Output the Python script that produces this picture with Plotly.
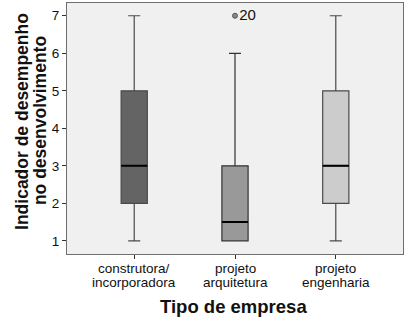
import plotly.graph_objects as go

# Summary statistics per company type
categories = ["construtora/incorporadora", "projeto arquitetura", "projeto engenharia"]
label_line1 = ["construtora/", "projeto", "projeto"]
label_line2 = ["incorporadora", "arquitetura", "engenharia"]
q1 = [2, 1, 2]
median = [3, 1.5, 3]
q3 = [5, 3, 5]
lower = [1, 1, 1]
upper = [7, 6, 7]
fills = ["#646464", "#999999", "#cccccc"]
edges = ["#4a4a4a", "#333333", "#4a4a4a"]

# Outlier case
outlier_cat = ["projeto arquitetura"]
outlier_val = [7]
outlier_id = ["20"]

FONT = "Liberation Sans, Arial"

fig = go.Figure()
for i, c in enumerate(categories):
    fig.add_trace(go.Box(
        x=[c], q1=[q1[i]], median=[median[i]], q3=[q3[i]],
        lowerfence=[lower[i]], upperfence=[upper[i]],
        fillcolor=fills[i], line=dict(color=edges[i], width=1.2),
        width=0.26, whiskerwidth=0.46, boxpoints=False, showlegend=False,
        hoverinfo="skip",
    ))
    # black median bar over the box
    fig.add_trace(go.Box(
        x=[c], q1=[median[i]], median=[median[i]], q3=[median[i]],
        lowerfence=[median[i]], upperfence=[median[i]],
        fillcolor="rgba(0,0,0,0)", line=dict(color="#000000", width=2),
        width=0.26, whiskerwidth=0, boxpoints=False, showlegend=False,
        hoverinfo="skip",
    ))

fig.add_trace(go.Scatter(
    x=outlier_cat, y=outlier_val, mode="markers+text", text=outlier_id,
    textposition="middle right",
    textfont=dict(family=FONT, size=15, color="#111111"),
    marker=dict(size=5, color="#888888", line=dict(color="#555555", width=1)),
    showlegend=False, cliponaxis=False,
))

annotations = []
# two-line category labels under the axis
for c, l1, l2 in zip(categories, label_line1, label_line2):
    annotations.append(dict(text=l1, x=c, xref="x", y=-0.056, yref="paper",
                            showarrow=False, xanchor="center", yanchor="middle",
                            font=dict(size=13.5, color="#111111")))
    annotations.append(dict(text=l2, x=c, xref="x", y=-0.112, yref="paper",
                            showarrow=False, xanchor="center", yanchor="middle",
                            font=dict(size=13.5, color="#111111")))

# axis titles
annotations += [
    dict(text="<b>Indicador de desempenho</b>", xref="paper", yref="paper",
         x=-0.134, y=0.53, textangle=-90, showarrow=False,
         xanchor="center", yanchor="middle", font=dict(size=17.5, color="#111111")),
    dict(text="<b>no desenvolvimento</b>", xref="paper", yref="paper",
         x=-0.080, y=0.53, textangle=-90, showarrow=False,
         xanchor="center", yanchor="middle", font=dict(size=17.5, color="#111111")),
    dict(text="<b>Tipo de empresa</b>", xref="paper", yref="paper",
         x=0.497, y=-0.211, showarrow=False, xanchor="center", yanchor="middle",
         font=dict(size=18.5, color="#111111")),
]

fig.update_layout(
    width=407, height=325,
    margin=dict(l=67, r=4, t=3, b=71),
    paper_bgcolor="white", plot_bgcolor="#f0f0f0",
    boxmode="overlay",
    font=dict(family=FONT, size=13, color="#111111"),
    xaxis=dict(
        type="category", categoryorder="array", categoryarray=categories,
        range=[-0.667, 2.667], showgrid=False, zeroline=False,
        showline=True, mirror=True, linecolor="#6e6e6e", linewidth=1.2,
        ticks="outside", ticklen=4, tickcolor="#333333",
        showticklabels=False,
    ),
    yaxis=dict(
        range=[0.65, 7.34], tickvals=[1, 2, 3, 4, 5, 6, 7],
        showgrid=False, zeroline=False,
        showline=True, mirror=True, linecolor="#6e6e6e", linewidth=1.2,
        ticks="outside", ticklen=4, tickcolor="#333333",
        tickfont=dict(size=13.5),
    ),
    annotations=annotations,
)

fig.write_html("out.html")
